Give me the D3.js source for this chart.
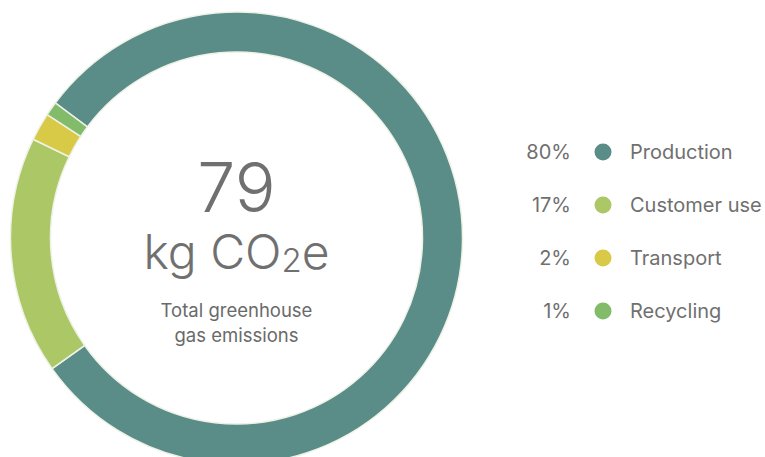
<!DOCTYPE html>
<html><head><meta charset="utf-8">
<script src="https://cdn.jsdelivr.net/npm/d3@7"></script>
<style>html,body{margin:0;padding:0;background:#fff;}svg{display:block;}</style>
</head><body>
<svg id="chart" width="765" height="457"></svg>
<script>
const categories = ["Production", "Customer use", "Transport", "Recycling"];
const values = [80, 17, 2, 1];
const colors = ["#5a8c88", "#acc765", "#d8ca46", "#82bb69"];
const totalValue = "79";
const unitLabel = "kg CO";
const subtitleLines = ["Total greenhouse", "gas emissions"];

const svg = d3.select("#chart");
const font = "Inter, 'Noto Sans', sans-serif";
const textColor = "#707070";
const cx = 236.5, cy = 238, rOuter = 226, rInner = 186;

const startDeg = -53.3;
const pie = d3.pie().sort(null).value(d => d)
  .startAngle(startDeg * Math.PI / 180)
  .endAngle((startDeg + 360) * Math.PI / 180);
const arc = d3.arc().innerRadius(rInner).outerRadius(rOuter);

const g = svg.append("g").attr("transform", `translate(${cx},${cy})`);
g.selectAll("path").data(pie(values)).join("path")
  .attr("d", arc)
  .attr("fill", (d, i) => colors[i])
  .attr("stroke", "#eef2e6")
  .attr("stroke-width", 1.5);

// center text
g.append("text").attr("text-anchor", "middle").attr("y", -26)
  .attr("font-family", font).attr("font-size", 68).attr("font-weight", 300)
  .attr("fill", textColor).text(totalValue);
const t2 = g.append("text").attr("text-anchor", "middle").attr("y", 31)
  .attr("font-family", font).attr("font-size", 48).attr("font-weight", 300)
  .attr("fill", textColor);
t2.append("tspan").text(unitLabel);
t2.append("tspan").attr("font-size", 33).attr("dy", 3).text("2");
t2.append("tspan").attr("dy", -3).text("e");
subtitleLines.forEach((s, i) => {
  g.append("text").attr("text-anchor", "middle").attr("y", 79 + i * 25)
    .attr("font-family", font).attr("font-size", 18.5)
    .attr("fill", "#6a6a6a").text(s);
});

// legend
const y = d3.scalePoint().domain(categories).range([152, 311]);
const lg = svg.append("g");
categories.forEach((c, i) => {
  const yy = y(c);
  lg.append("text").attr("x", 571).attr("y", yy).attr("dy", "0.35em")
    .attr("text-anchor", "end").attr("font-family", font).attr("font-size", 20)
    .attr("fill", textColor).text(values[i] + "%");
  lg.append("circle").attr("cx", 603).attr("cy", yy).attr("r", 8.5).attr("fill", colors[i]);
  lg.append("text").attr("x", 630).attr("y", yy).attr("dy", "0.35em")
    .attr("font-family", font).attr("font-size", 20)
    .attr("fill", textColor).text(c);
});
</script>
</body></html>
